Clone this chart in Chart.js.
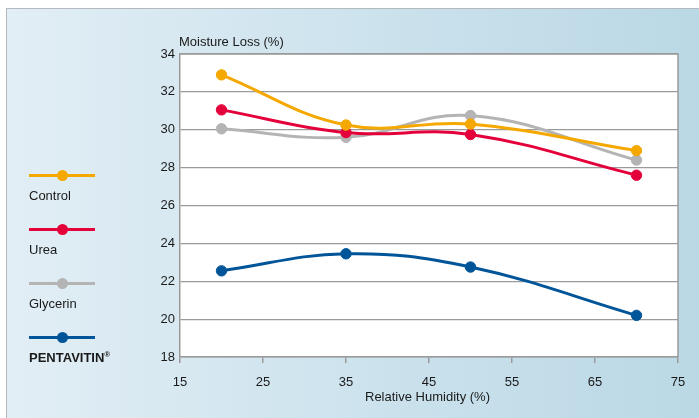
<!DOCTYPE html>
<html>
<head>
<meta charset="utf-8">
<script src="https://cdn.jsdelivr.net/npm/chart.js@4/dist/chart.umd.min.js"></script>
<style>
    html, body { margin: 0; padding: 0; background: #fff; }
    #frame {
        position: absolute; left: 6px; top: 8px; width: 693px; height: 410px;
        border-left: 1.5px solid #b4b9bd; border-top: 1.5px solid #b4b9bd;
        background: linear-gradient(to right, #e2eef5 0%, #cfe4ee 45%, #bad8e5 100%);
    }
    #wrap { position: absolute; left: 0; top: 0; width: 699px; height: 418px; }
    .lbl { position: absolute; font-family: "Liberation Sans", Arial, sans-serif; font-size: 13px; color: #1a1a1a; white-space: nowrap; }
    .key { position: absolute; left: 29px; width: 66px; height: 3px; }
    .key i { position: absolute; left: 28px; top: -4px; width: 11px; height: 11px; border-radius: 50%; }
</style>
</head>
<body>
<div id="frame"></div>
<div id="wrap"><canvas id="chart" width="699" height="418"></canvas></div>
<div class="lbl" style="left:179px; top:34px;">Moisture Loss (%)</div>
<div class="lbl" style="left:365px; top:389px;">Relative Humidity (%)</div>
<div id="legend"></div>
<script>
const humidity = [20, 35, 50, 70];
const control = [32.9, 30.25, 30.3, 28.9];
const urea = [31.05, 29.85, 29.75, 27.6];
const glycerin = [30.05, 29.6, 30.75, 28.4];
const pentavitin = [22.55, 23.45, 22.75, 20.2];

const names = ["Control", "Urea", "Glycerin", "PENTAVITIN\u00ae"];
const colors = ["#f5a800", "#e4003b", "#b4b4b4", "#005599"];
const series = [control, urea, glycerin, pentavitin];

// legend on the left, drawn as html
const legend = document.getElementById("legend");
names.forEach((n, i) => {
    const top = 174 + i * 54;
    const k = document.createElement("div");
    k.className = "key";
    k.style.top = top + "px";
    k.style.background = colors[i];
    k.innerHTML = '<i style="background:' + colors[i] + '"></i>';
    legend.appendChild(k);
    const t = document.createElement("div");
    t.className = "lbl";
    t.style.left = "29px";
    t.style.top = (top + 14) + "px";
    if (i === 3) {
        t.style.fontWeight = "bold";
        t.innerHTML = 'PENTAVITIN<sup style="font-size:8px">\u00ae</sup>';
    } else {
        t.textContent = n;
    }
    legend.appendChild(t);
});

const plotBox = {
    id: "plotBox",
    beforeDraw(chart) {
        const { ctx, chartArea: a } = chart;
        ctx.save();
        ctx.fillStyle = "#fff";
        ctx.fillRect(a.left, a.top, a.right - a.left, a.bottom - a.top);
        ctx.restore();
    },
    afterDatasetsDraw(chart) {
        const { ctx, chartArea: a } = chart;
        ctx.save();
        ctx.strokeStyle = "#9a9a9a";
        ctx.lineWidth = 1.5;
        ctx.beginPath();
        ctx.moveTo(a.left, a.top);
        ctx.lineTo(a.right, a.top);
        ctx.lineTo(a.right, a.bottom);
        ctx.stroke();
        ctx.restore();
    },
};

Chart.defaults.font.family = '"Liberation Sans", Arial, sans-serif';
Chart.defaults.font.size = 13;
Chart.defaults.color = "#1a1a1a";

new Chart(document.getElementById("chart"), {
    type: "line",
    data: {
        datasets: series.map((s, i) => ({
            label: names[i],
            data: s.map((v, j) => ({ x: humidity[j], y: v })),
            borderColor: colors[i],
            backgroundColor: colors[i],
            borderWidth: 3,
            pointRadius: 5.2,
            pointBorderWidth: 1,
            pointHoverRadius: 5.2,
            tension: 0.4,
        })),
    },
    options: {
        responsive: false,
        animation: false,
        layout: { padding: { top: 54, right: 21, left: 0, bottom: 0 } },
        scales: {
            x: {
                type: "linear",
                min: 15,
                max: 75,
                afterFit: (s) => { s.height = 61; },
                ticks: { stepSize: 10, padding: 12 },
                grid: { drawOnChartArea: false, drawTicks: true, tickLength: 6, color: "#9a9a9a", lineWidth: 1.5 },
                border: { color: "#9a9a9a", width: 1.5 },
            },
            y: {
                min: 18,
                max: 34,
                afterFit: (s) => { s.width = 180; },
                ticks: { stepSize: 2, padding: 5 },
                grid: { drawTicks: false, color: "#9a9a9a", lineWidth: 1.2 },
                border: { color: "#9a9a9a", width: 1.5 },
            },
        },
        plugins: {
            legend: { display: false },
            tooltip: { enabled: false },
        },
    },
    plugins: [plotBox],
});
</script>
</body>
</html>
